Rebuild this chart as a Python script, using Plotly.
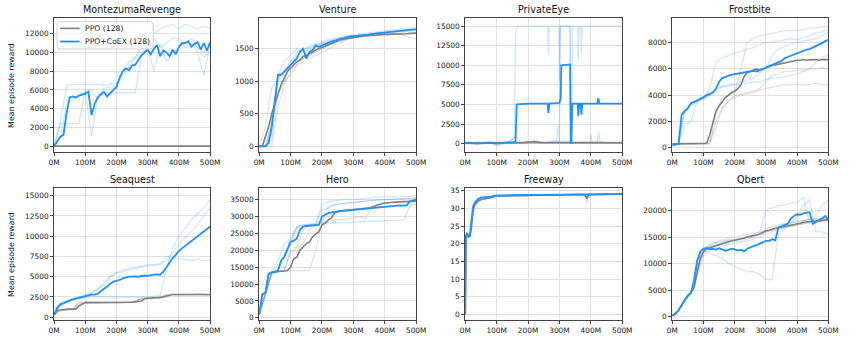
import plotly.graph_objects as go

# x positions in millions of frames
X10 = list(range(0, 501, 10))
X20 = list(range(0, 501, 20))

# ---------------- MontezumaRevenge ----------------
MR_PPO_X = [0, 500]
MR_PPO = [0, 0]
MR_COEX = [0, 500, 1000, 1200, 3500, 5200, 5300, 5200, 5400, 5500, 5600, 5800, 3300, 4500, 5200, 5500, 5800,
           5300, 5700, 6000, 6300, 7300, 8000, 8300, 8100, 8600, 8700, 9200, 9700, 10000, 10300, 9800, 10400,
           10800, 9600, 10200, 10000, 9600, 10300, 9800, 10600, 11000, 11000, 11200, 10600, 10900, 11100, 10300,
           11000, 10200, 11100]
MR_COEX_S1 = [0, 2500, 6500, 6600, 6600, 6600, 6600, 6600, 6500, 6600, 6700, 7500, 8500, 9500, 10500, 11000,
              12000, 12500, 12800, 13000, 12500, 13000, 12800, 12500, 12800, 12600]
MR_COEX_S2 = [0, 2400, 2400, 2400, 2400, 6000, 1000, 5500, 5800, 5600, 5700, 5700, 5700, 5700, 9500, 10500,
              8000, 11000, 9000, 10000, 10500, 11000, 11500, 10500, 9500, 10000]
MR_COEX_S3 = [0, 1000, 4500, 5000, 5500, 5800, 6000, 5000, 6200, 6300, 6500, 8000, 9000, 9500, 10000, 10500,
              11500, 10500, 11000, 11500, 11500, 10500, 11000, 10000, 7500, 11000]

# ---------------- Venture ----------------
VE_PPO = [0, 0, 150, 300, 500, 650, 800, 950, 1050, 1150, 1200, 1250, 1300, 1330, 1380, 1400, 1420, 1450, 1480,
          1500, 1520, 1550, 1570, 1590, 1600, 1620, 1640, 1650, 1660, 1670, 1680, 1685, 1690, 1695, 1700, 1700,
          1700, 1705, 1710, 1715, 1720, 1720, 1720, 1725, 1730, 1730, 1730, 1730, 1735, 1735, 1740]
VE_COEX = [0, 0, 0, 50, 300, 700, 1100, 1100, 1150, 1200, 1250, 1300, 1350, 1450, 1500, 1350, 1450, 1480, 1550,
           1530, 1550, 1570, 1600, 1610, 1620, 1640, 1650, 1660, 1680, 1690, 1690, 1700, 1700, 1710, 1710, 1720,
           1730, 1735, 1740, 1745, 1750, 1755, 1760, 1760, 1760, 1765, 1770, 1780, 1790, 1795, 1800]
VE_PPO_S1 = [0, 300, 900, 1050, 1150, 1200, 1300, 1350, 1400, 1450, 1500, 1550, 1600, 1620, 1650, 1670, 1690,
             1700, 1700, 1710, 1720, 1720, 1730, 1730, 1740, 1750]
VE_PPO_S2 = [0, 0, 100, 800, 1000, 1100, 1250, 1350, 1420, 1450, 1480, 1550, 1580, 1620, 1650, 1660, 1680,
             1690, 1700, 1700, 1710, 1720, 1720, 1700, 1680, 1650]
VE_PPO_S3 = [0, 0, 0, 600, 950, 1150, 1250, 1300, 1350, 1400, 1450, 1500, 1550, 1600, 1640, 1670, 1680, 1700,
             1720, 1730, 1740, 1740, 1750, 1760, 1770, 1780]
VE_COEX_S1 = [0, 0, 400, 1100, 1300, 1400, 1500, 1450, 1550, 1580, 1600, 1640, 1660, 1680, 1700, 1710, 1730,
              1740, 1750, 1760, 1770, 1780, 1790, 1800, 1820, 1840]
VE_COEX_S2 = [0, 0, 300, 1000, 1150, 1300, 1450, 1500, 1520, 1560, 1590, 1620, 1650, 1670, 1690, 1700, 1720,
              1730, 1740, 1750, 1760, 1770, 1780, 1790, 1790, 1800]
VE_COEX_S3 = [0, 0, 200, 1000, 1000, 1250, 1400, 1450, 1500, 1550, 1580, 1610, 1640, 1660, 1680, 1700, 1700,
              1720, 1730, 1740, 1750, 1760, 1770, 1780, 1780, 1790]

# ---------------- PrivateEye ----------------
PE_PPO = [100, 80, 50, 100, 120, 60, 100, 150, 120, 100, 130, 250, 120, 100, 150, 120, 130, 100, 100, 120, 100,
          130, 100, 120, 100, 120]
PE_COEX_X = [0, 20, 40, 60, 80, 100, 120, 140, 160, 164, 200, 262, 265, 268, 300, 304, 306, 334, 336, 338, 341,
             358, 360, 363, 368, 370, 373, 420, 424, 427, 500]
PE_COEX = [100, 50, 0, 50, 100, 0, 100, 150, 200, 5000, 5100, 5100, 3900, 5100, 5200, 5800, 10000, 10100, 100,
           100, 5100, 5100, 3500, 5100, 5100, 3700, 5100, 5100, 5800, 5100, 5100]
PE_PPO_S1 = [200, 100, 0, 100, 200, 100, 0, 300, 100, 200, 100, 400, 200, 100, 300, 200, 100, 200, 100, 100, 200,
             100, 200, 100, 100, 200]
PE_PPO_S2 = [0, 100, 200, 0, 100, 200, 300, 100, 200, 100, 300, 100, 100, 200, 100, 100, 300, 100, 200, 200, 100,
             200, 100, 200, 100, 100]
PE_PPO_S3 = [100, 0, 100, 200, 100, 0, 100, 200, 900, 100, 200, 100, 300, 100, 100, 200, 100, 100, 200, 100, 100,
             200, 200, 100, 200, 100]
PE_COEX_S1_X = [0, 40, 80, 100, 120, 140, 156, 160, 166, 200, 262, 265, 268, 298, 300, 303, 334, 336, 338, 342,
                358, 360, 363, 368, 370, 373, 500]
PE_COEX_S1 = [300, 0, 200, -300, 0, 300, 800, 14000, 15000, 15000, 15000, 11300, 15000, 15000, 8000, 15000,
              15000, 0, 0, 15000, 15000, 10500, 15000, 15000, 11500, 15000, 15000]
PE_COEX_S2_X = [0, 100, 200, 290, 296, 300, 302, 304, 334, 336, 340, 400, 500]
PE_COEX_S2 = [0, 0, 100, 200, 2200, 200, 14000, 15000, 15000, 200, 100, 100, 100]
PE_COEX_S3_X = [0, 100, 200, 300, 396, 400, 404, 420, 425, 430, 500]
PE_COEX_S3 = [0, 100, 0, 300, 100, 1200, 100, 100, 1500, 100, 100]

# ---------------- Frostbite ----------------
FB_PPO = [300, 300, 300, 300, 300, 300, 300, 300, 300, 300, 300, 350, 1000, 2000, 2800, 3200, 3500, 3800, 4000,
          4200, 4300, 4500, 4800, 5400, 5700, 5800, 5900, 6000, 5900, 6000, 6100, 6200, 6250, 6300, 6350, 6400,
          6500, 6550, 6600, 6650, 6650, 6650, 6700, 6650, 6700, 6700, 6700, 6650, 6700, 6700, 6700]
FB_COEX = [200, 250, 300, 2500, 2800, 3000, 3400, 3500, 3600, 3700, 3850, 4000, 4100, 4200, 4500, 5000, 5300,
           5400, 5500, 5550, 5600, 5650, 5700, 5750, 5800, 5800, 5850, 5800, 5900, 6000, 6100, 6200, 6300, 6400,
           6500, 6600, 6800, 6900, 7000, 7100, 7200, 7300, 7400, 7450, 7500, 7600, 7700, 7800, 7950, 8100, 8200]
FB_PPO_S1 = [300, 300, 300, 300, 300, 300, 300, 2500, 3800, 4000, 4200, 6000, 8000, 8300, 8500, 8600, 8700, 8800,
             8900, 8900, 8900, 9000, 9100, 9100, 9200, 9200]
FB_PPO_S2 = [300, 300, 300, 300, 300, 300, 300, 2000, 3000, 3500, 4000, 4100, 4200, 4300, 4500, 5000, 5500, 5600,
             5800, 5800, 5900, 5900, 6000, 6000, 6100, 6000]
FB_PPO_S3 = [300, 300, 300, 300, 300, 300, 500, 1500, 3000, 3600, 3800, 4000, 4100, 4200, 4400, 4500, 4600, 4700,
             4800, 4800, 4800, 4800, 4800, 4900, 4800, 4800]
FB_COEX_S1 = [200, 300, 3000, 3300, 3500, 3800, 4500, 6500, 6800, 7000, 7200, 7300, 7500, 7600, 7800, 8000, 8000,
              8100, 8200, 8300, 8200, 8400, 8500, 8700, 8800, 9000]
FB_COEX_S2 = [200, 300, 1800, 2000, 3500, 3700, 4000, 4500, 4600, 4700, 4800, 4800, 4900, 5000, 5000, 5200, 5300,
              5300, 5400, 5500, 5600, 5800, 6000, 6500, 6900, 7000]
FB_COEX_S3 = [200, 300, 2800, 3200, 3500, 3800, 4000, 4300, 4700, 4800, 4800, 5000, 5100, 5300, 5700, 6000, 7000,
              7500, 7700, 7900, 8000, 8100, 8200, 8300, 8500, 8800]

# ---------------- Seaquest ----------------
SQ_PPO = [300, 800, 900, 950, 950, 1000, 1000, 1000, 1400, 1600, 1800, 1800, 1800, 1800, 1800, 1800, 1800, 1850,
          1850, 1850, 1850, 1850, 1850, 1850, 1850, 1850, 1900, 1950, 2000, 2300, 2350, 2350, 2400, 2400, 2400,
          2500, 2600, 2700, 2800, 2800, 2800, 2800, 2800, 2800, 2800, 2800, 2800, 2800, 2800, 2800, 2800]
SQ_COEX = [300, 1200, 1600, 1700, 1900, 2100, 2200, 2300, 2400, 2500, 2600, 2700, 2800, 2800, 2900, 3200, 3500,
           3800, 4100, 4400, 4500, 4600, 4800, 4900, 5000, 5000, 5050, 5000, 5100, 5150, 5100, 5200, 5250, 5300,
           5250, 5600, 6200, 6700, 7300, 7700, 8200, 8500, 8800, 9100, 9400, 9700, 10000, 10300, 10600, 10800,
           11200]
SQ_PPO_S1 = [300, 900, 1000, 1000, 1800, 1800, 1800, 1800, 1800, 1800, 1800, 1800, 1800, 1800, 2300, 2400, 2400,
             2500, 2800, 2800, 2800, 2800, 2800, 2800, 2800, 2800]
SQ_PPO_S2 = [300, 900, 1000, 1000, 1500, 1900, 1900, 1900, 1900, 1900, 1900, 1900, 1900, 2000, 2300, 2300, 2300,
             2400, 2700, 2800, 2800, 2800, 2800, 2800, 2800, 2800]
SQ_PPO_S3 = [300, 800, 900, 900, 1800, 1800, 1800, 1800, 1800, 1800, 1800, 1800, 1900, 2000, 2300, 2300, 2400,
             2500, 2800, 2800, 2800, 2800, 2800, 2900, 2800, 2800]
SQ_COEX_S1 = [300, 1800, 2000, 2200, 2300, 2400, 2500, 2500, 2500, 2500, 2500, 2500, 2500, 2500, 2500, 2500,
              2600, 2700, 6000, 8500, 10000, 11000, 12000, 12800, 13500, 14500]
SQ_COEX_S2 = [300, 1500, 2000, 2300, 2500, 2800, 3000, 3500, 4000, 5000, 5500, 5800, 6000, 6200, 6300, 6500,
              6500, 6600, 7500, 7300, 7200, 7100, 7000, 7200, 7000, 7100]
SQ_COEX_S3 = [300, 1400, 1900, 2200, 2400, 2700, 3000, 3500, 4200, 5000, 5500, 5600, 5800, 6000, 6200, 6300,
              6400, 6500, 7000, 8000, 9000, 9800, 10500, 11500, 12500, 13500]

# ---------------- Hero ----------------
HE_PPO = [1000, 6800, 7500, 13000, 13500, 13600, 13700, 13800, 13900, 14000, 15000, 17500, 18000, 20000, 21000,
          22000, 22500, 24000, 24800, 25500, 27500, 28000, 29000, 29500, 31000, 31500, 31700, 31800, 31800, 31900,
          31900, 32000, 32100, 32200, 32300, 32500, 32800, 33200, 33500, 33800, 34000, 34100, 34200, 34300, 34300,
          34300, 34400, 34400, 34500, 34500, 34500]
HE_COEX = [1000, 7000, 7500, 13000, 13500, 13600, 14000, 17000, 18000, 20000, 22500, 22800, 23500, 26000, 27000,
           27200, 27300, 27400, 27300, 27500, 30000, 30500, 31000, 31200, 31400, 31500, 31600, 31700, 31800, 31900,
           32000, 32100, 32200, 32300, 32400, 32500, 32600, 32700, 32800, 32900, 33000, 33100, 33100, 33200, 33200,
           33200, 33300, 33300, 34500, 34800, 35000]
HE_PPO_S1 = [1000, 7000, 13000, 13800, 14000, 14000, 14000, 14000, 14000, 20000, 28000, 28500, 29000, 29000,
             29200, 29500, 30000, 29500, 33000, 33500, 34000, 34200, 34500, 34500, 34500, 34500]
HE_PPO_S2 = [1000, 7000, 13000, 13600, 14000, 19500, 20000, 22000, 26000, 27500, 28000, 33000, 33500, 33800,
             34000, 34200, 34500, 34800, 35000, 35000, 35000, 35200, 35200, 35300, 35300, 35500]
HE_PPO_S3 = [1000, 7500, 13500, 13600, 14000, 20000, 21000, 26000, 27500, 28000, 29000, 30000, 31000, 31500,
             32000, 32200, 32300, 32500, 32800, 33000, 33000, 33200, 33300, 33500, 33600, 33600]
HE_COEX_S1 = [1000, 7500, 13500, 17000, 22000, 23500, 27000, 27500, 27500, 27500, 28000, 28000, 28000, 28000,
              28200, 28300, 28300, 28500, 28600, 28700, 28800, 28800, 28800, 28900, 33000, 33500]
HE_COEX_S2 = [1000, 7500, 13500, 14500, 19000, 23000, 27000, 27500, 27800, 28000, 33500, 34500, 34700, 34800,
              35000, 35000, 35200, 35300, 35500, 35600, 35800, 35800, 36000, 36000, 36000, 36200]
HE_COEX_S3 = [1000, 7500, 13200, 14000, 18500, 22000, 26500, 27000, 27500, 27500, 32000, 32500, 33500, 33800,
              34000, 34200, 34300, 34500, 34700, 34800, 35000, 35000, 35200, 35300, 35300, 35500]

# ---------------- Freeway ----------------
FW_X = [0, 2, 5, 10, 15, 20, 25, 30, 40, 50, 60, 70, 80, 90, 100, 150, 200, 250, 300, 350, 380, 388, 392, 400,
        420, 450, 500]
FW_PPO = [0, 22.5, 23, 22.5, 22, 25, 29.5, 31, 32, 32.5, 32.6, 32.8, 33, 33.3, 33.5, 33.6, 33.7, 33.8, 33.8,
          33.9, 33.9, 33.9, 33.9, 33.9, 34, 34, 34]
FW_COEX = [0, 22, 22.5, 22, 22.5, 27, 30.5, 31.5, 32.5, 33, 33, 33.1, 33.2, 33.5, 33.6, 33.7, 33.8, 33.8, 33.9,
           33.9, 33.9, 32.8, 33.9, 33.9, 34, 34, 34]
FW_PPO_S1 = [0, 23, 23, 22.8, 22.5, 24, 28.5, 30.5, 31.5, 32.3, 32.5, 32.6, 32.8, 33.1, 33.4, 33.5, 33.6, 33.7,
             33.8, 33.8, 33.9, 33.9, 33.9, 33.9, 33.9, 34, 34]
FW_COEX_S1 = [0, 21.5, 22, 21.5, 22, 28, 31, 32, 33, 33.2, 33.3, 33.3, 33.4, 33.6, 33.7, 33.8, 33.9, 33.9, 34,
              34, 34, 31.5, 34, 34, 34, 34.1, 34.1]

# ---------------- Qbert ----------------
QB_PPO = [200, 500, 1200, 2200, 3200, 4000, 4500, 5500, 8500, 11000, 12200, 12800, 13000, 13200, 13400, 13600,
          13800, 14000, 14200, 14300, 14400, 14500, 14700, 14800, 15000, 15100, 15300, 15400, 15600, 15900, 16200,
          16300, 16500, 16600, 16800, 16900, 17000, 17100, 17200, 17300, 17400, 17600, 17800, 17900, 18000, 18000,
          18000, 18100, 18200, 18200, 18300]
QB_COEX = [200, 500, 1200, 2200, 3200, 4000, 4500, 6500, 10500, 12300, 12800, 12900, 12700, 12800, 12600, 12900,
           12700, 12400, 12600, 12800, 12700, 12500, 12600, 12300, 12800, 13100, 13300, 13500, 13700, 14000, 14300,
           14300, 14600, 14400, 16800, 17000, 17200, 17500, 18500, 19000, 19300, 19200, 19500, 19600, 19700, 17500,
           17800, 18200, 18500, 19000, 18300]
QB_PPO_S1 = [200, 1200, 3200, 4500, 8000, 12000, 13000, 13500, 14000, 14300, 14500, 14800, 15000, 15300, 15500,
             16000, 16300, 16500, 16800, 17000, 17300, 17500, 17800, 18000, 18000, 18200]
QB_PPO_S2 = [200, 1200, 3200, 4300, 9000, 12500, 13500, 14000, 14500, 14800, 15000, 15300, 15500, 15800, 16000,
             16500, 17000, 17300, 17500, 17800, 18000, 18200, 18300, 18500, 18500, 18600]
QB_PPO_S3 = [200, 1100, 3000, 4500, 7500, 11500, 12500, 13000, 13300, 13500, 13800, 14000, 14300, 14600, 15000,
             15500, 16000, 16400, 16800, 17000, 17200, 17500, 17800, 18000, 18000, 18100]
QB_COEX_S1 = [200, 1200, 3200, 4500, 10500, 12500, 12000, 11500, 11000, 10000, 9500, 9000, 8500, 8500, 8000,
              7000, 7000, 15500, 16500, 17500, 19000, 21000, 22000, 16000, 16000, 15500]
QB_COEX_S2 = [200, 1200, 3200, 4500, 11000, 12800, 13500, 14000, 14200, 14500, 14500, 14800, 15000, 15500, 16000,
              20000, 20500, 21000, 21000, 21500, 21500, 22500, 17500, 19000, 21000, 22000]
QB_COEX_S3 = [200, 1200, 3200, 4500, 11000, 13000, 13200, 13500, 13700, 13800, 14000, 14300, 14600, 15000, 15500,
              16000, 16500, 17000, 17500, 17800, 18000, 18200, 18300, 18400, 18500, 18500]

GAMES = [
    dict(title="MontezumaRevenge", ppo=(MR_PPO_X, MR_PPO), coex=(X10, MR_COEX),
         ppo_seeds=[], coex_seeds=[(X20, MR_COEX_S1), (X20, MR_COEX_S2), (X20, MR_COEX_S3)],
         yrange=[-650, 13700], yticks=[0, 2000, 4000, 6000, 8000, 10000, 12000]),
    dict(title="Venture", ppo=(X10, VE_PPO), coex=(X10, VE_COEX),
         ppo_seeds=[(X20, VE_PPO_S1), (X20, VE_PPO_S2), (X20, VE_PPO_S3)],
         coex_seeds=[(X20, VE_COEX_S1), (X20, VE_COEX_S2), (X20, VE_COEX_S3)],
         yrange=[-90, 1975], yticks=[0, 500, 1000, 1500]),
    dict(title="PrivateEye", ppo=(X20, PE_PPO), coex=(PE_COEX_X, PE_COEX),
         ppo_seeds=[(X20, PE_PPO_S1), (X20, PE_PPO_S2), (X20, PE_PPO_S3)],
         coex_seeds=[(PE_COEX_S1_X, PE_COEX_S1), (PE_COEX_S2_X, PE_COEX_S2), (PE_COEX_S3_X, PE_COEX_S3)],
         yrange=[-1100, 16050], yticks=[0, 2500, 5000, 7500, 10000, 12500, 15000]),
    dict(title="Frostbite", ppo=(X10, FB_PPO), coex=(X10, FB_COEX),
         ppo_seeds=[(X20, FB_PPO_S1), (X20, FB_PPO_S2), (X20, FB_PPO_S3)],
         coex_seeds=[(X20, FB_COEX_S1), (X20, FB_COEX_S2), (X20, FB_COEX_S3)],
         yrange=[-330, 9870], yticks=[0, 2000, 4000, 6000, 8000]),
    dict(title="Seaquest", ppo=(X10, SQ_PPO), coex=(X10, SQ_COEX),
         ppo_seeds=[(X20, SQ_PPO_S1), (X20, SQ_PPO_S2), (X20, SQ_PPO_S3)],
         coex_seeds=[(X20, SQ_COEX_S1), (X20, SQ_COEX_S2), (X20, SQ_COEX_S3)],
         yrange=[-370, 15975], yticks=[0, 2500, 5000, 7500, 10000, 12500, 15000]),
    dict(title="Hero", ppo=(X10, HE_PPO), coex=(X10, HE_COEX),
         ppo_seeds=[(X20, HE_PPO_S1), (X20, HE_PPO_S2), (X20, HE_PPO_S3)],
         coex_seeds=[(X20, HE_COEX_S1), (X20, HE_COEX_S2), (X20, HE_COEX_S3)],
         yrange=[-700, 38500], yticks=[0, 5000, 10000, 15000, 20000, 25000, 30000, 35000]),
    dict(title="Freeway", ppo=(FW_X, FW_PPO), coex=(FW_X, FW_COEX),
         ppo_seeds=[(FW_X, FW_PPO_S1)], coex_seeds=[(FW_X, FW_COEX_S1)],
         yrange=[-1.6, 35.8], yticks=[0, 5, 10, 15, 20, 25, 30, 35]),
    dict(title="Qbert", ppo=(X10, QB_PPO), coex=(X10, QB_COEX),
         ppo_seeds=[(X20, QB_PPO_S1), (X20, QB_PPO_S2), (X20, QB_PPO_S3)],
         coex_seeds=[(X20, QB_COEX_S1), (X20, QB_COEX_S2), (X20, QB_COEX_S3)],
         yrange=[-680, 24300], yticks=[0, 5000, 10000, 15000, 20000]),
]

X_TICKS = [0, 100, 200, 300, 400, 500]
X_TICKTEXT = ["0M", "100M", "200M", "300M", "400M", "500M"]
LEGEND_NAMES = ["PPO (128)", "PPO+CoEX (128)"]

BLUE = "#1e90ff"
GRAY = "#808080"
BLUE_SEED = "rgba(30,144,255,0.22)"
GRAY_SEED = "rgba(128,128,128,0.22)"

W, H = 855, 342
# subplot domains (paper coords) picked to match the original layout
COL_DOM = [[49 / W, 208 / W], [258 / W, 418 / W], [468 / W, 628 / W], [679 / W, 838 / W]]
ROW_DOM = [[1 - 152 / H, 1 - 16 / H], [1 - 322 / H, 1 - 188 / H]]

FONT = "DejaVu Sans"
fig = go.Figure()
annotations = []
shapes = []

for i, g in enumerate(GAMES):
    n = i + 1
    xa = "x" if n == 1 else f"x{n}"
    ya = "y" if n == 1 else f"y{n}"
    row, col = divmod(i, 4)

    for sx, sy in g["ppo_seeds"]:
        fig.add_trace(go.Scatter(x=sx, y=sy, mode="lines", line=dict(color=GRAY_SEED, width=1.3),
                                 showlegend=False, hoverinfo="skip", xaxis=xa, yaxis=ya))
    for sx, sy in g["coex_seeds"]:
        fig.add_trace(go.Scatter(x=sx, y=sy, mode="lines", line=dict(color=BLUE_SEED, width=1.3),
                                 showlegend=False, hoverinfo="skip", xaxis=xa, yaxis=ya))
    fig.add_trace(go.Scatter(x=g["ppo"][0], y=g["ppo"][1], mode="lines", name=LEGEND_NAMES[0],
                             line=dict(color=GRAY, width=1.6), showlegend=False, xaxis=xa, yaxis=ya))
    fig.add_trace(go.Scatter(x=g["coex"][0], y=g["coex"][1], mode="lines", name=LEGEND_NAMES[1],
                             line=dict(color=BLUE, width=1.8), showlegend=False, xaxis=xa, yaxis=ya))

    axis_common = dict(showline=True, mirror=True, linecolor="#444", linewidth=1,
                       showgrid=True, gridcolor="#e0e0e0", gridwidth=1, zeroline=False,
                       ticks="outside", ticklen=3, tickcolor="#444",
                       tickfont=dict(family=FONT, size=7.4, color="#222"))
    fig.update_layout(**{
        ("xaxis" if n == 1 else f"xaxis{n}"): dict(
            domain=COL_DOM[col], anchor=ya, range=[0, 500],
            tickvals=X_TICKS, ticktext=X_TICKTEXT, **axis_common),
        ("yaxis" if n == 1 else f"yaxis{n}"): dict(
            domain=ROW_DOM[row], anchor=xa, range=g["yrange"], tickvals=g["yticks"],
            ticktext=[str(v) for v in g["yticks"]], **axis_common),
    })

    annotations.append(dict(text=g["title"], xref="paper", yref="paper",
                            x=sum(COL_DOM[col]) / 2, y=ROW_DOM[row][1], xanchor="center", yanchor="bottom",
                            yshift=1, showarrow=False, font=dict(family=FONT, size=9.6, color="#111")))

for row in range(2):
    annotations.append(dict(text="Mean episode reward", xref="paper", yref="paper",
                            x=5 / W, y=sum(ROW_DOM[row]) / 2, xanchor="center", yanchor="middle",
                            textangle=-90, showarrow=False, font=dict(family=FONT, size=7.9, color="#111")))

# legend drawn by hand (plotly's own legend rows are too tall for this size)
lx0, lx1, ly0, ly1, r = 52 / W, 150 / W, 1 - 47.5 / H, 1 - 20 / H, 3
rx, ry = r / W, r / H
shapes.append(dict(
    type="path", xref="paper", yref="paper", layer="above",
    path=(f"M {lx0 + rx},{ly1} L {lx1 - rx},{ly1} Q {lx1},{ly1} {lx1},{ly1 - ry} "
          f"L {lx1},{ly0 + ry} Q {lx1},{ly0} {lx1 - rx},{ly0} L {lx0 + rx},{ly0} "
          f"Q {lx0},{ly0} {lx0},{ly0 + ry} L {lx0},{ly1 - ry} Q {lx0},{ly1} {lx0 + rx},{ly1} Z"),
    fillcolor="rgba(255,255,255,0.8)", line=dict(color="#d0d0d0", width=1)))
for k, (name, color, width) in enumerate(zip(LEGEND_NAMES, [GRAY, BLUE], [1.6, 1.8])):
    yy = 1 - (26.7 + 13.3 * k) / H
    shapes.append(dict(type="line", xref="paper", yref="paper", layer="above",
                       x0=55 / W, x1=75 / W, y0=yy, y1=yy, line=dict(color=color, width=width)))
    annotations.append(dict(text=name, xref="paper", yref="paper", x=78.5 / W, y=yy,
                            xanchor="left", yanchor="middle", showarrow=False,
                            font=dict(family=FONT, size=7.7, color="#222")))

fig.update_layout(
    width=W, height=H,
    margin=dict(l=0, r=0, t=0, b=0),
    paper_bgcolor="white", plot_bgcolor="white",
    annotations=annotations, shapes=shapes, showlegend=False,
)

fig.write_html("out.html", config={"displayModeBar": False},
               post_script="document.body.style.margin='0';document.body.style.overflow='hidden';")
